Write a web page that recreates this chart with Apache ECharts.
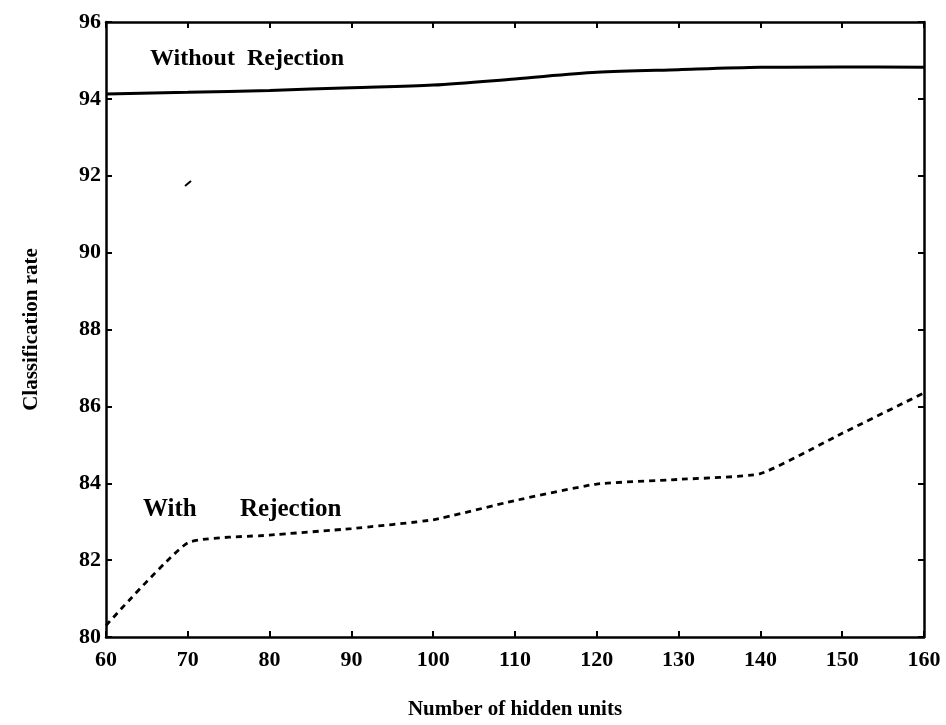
<!DOCTYPE html>
<html><head><meta charset="utf-8">
<script src="https://cdn.jsdelivr.net/npm/echarts@6/dist/echarts.min.js"></script>
<style>html,body{margin:0;padding:0;background:#fff}#c{width:946px;height:725px}</style>
</head><body><div id="c"></div>
<script>
const hiddenUnits = [60, 70, 80, 90, 100, 110, 120, 130, 140, 150, 160];
const withoutRejection = [94.13, 94.17, 94.22, 94.29, 94.36, 94.52, 94.69, 94.76, 94.82, 94.83, 94.82];
const withRejection = [80.3, 82.45, 82.65, 82.82, 83.05, 83.55, 83.98, 84.1, 84.25, 85.3, 86.35];
const xTicks = [60, 70, 80, 90, 100, 110, 120, 130, 140, 150, 160];
const yTicks = [80, 82, 84, 86, 88, 90, 92, 94, 96];

const font = 'Liberation Serif';
const chart = echarts.init(document.getElementById('c'));
const pair = a => hiddenUnits.map((x, i) => [x, a[i]]);
const axisLine = {show: true, lineStyle: {color: '#000', width: 2.5}};
const tick = {show: true, inside: true, length: 6, lineStyle: {color: '#000', width: 2}};
chart.setOption({
  backgroundColor: '#fff',
  animation: false,
  grid: {left: 106, right: 22, top: 22, bottom: 83, containLabel: false},
  xAxis: [{
    type: 'value', min: 60, max: 160, interval: 10, position: 'bottom',
    axisLine, axisTick: tick, splitLine: {show: false},
    axisLabel: {color: '#000', fontFamily: font, fontWeight: 'bold', fontSize: 22, margin: 12},
    name: 'Number of hidden units', nameLocation: 'middle', nameGap: 62,
    nameTextStyle: {color: '#000', fontFamily: font, fontWeight: 'bold', fontSize: 21}
  }, {
    type: 'value', min: 60, max: 160, interval: 10, position: 'top',
    axisLine, axisTick: tick, axisLabel: {show: false}, splitLine: {show: false}
  }],
  yAxis: [{
    type: 'value', min: 80, max: 96, interval: 2, position: 'left',
    axisLine, axisTick: tick, splitLine: {show: false},
    axisLabel: {color: '#000', fontFamily: font, fontWeight: 'bold', fontSize: 22, margin: 5},
    name: 'Classification rate', nameLocation: 'middle', nameGap: 64,
    nameTextStyle: {color: '#000', fontFamily: font, fontWeight: 'bold', fontSize: 21}
  }, {
    type: 'value', min: 80, max: 96, interval: 2, position: 'right',
    axisLine, axisTick: tick, axisLabel: {show: false}, splitLine: {show: false}
  }],
  series: [{
    type: 'line', data: pair(withoutRejection), smooth: 0.3, symbol: 'none',
    lineStyle: {color: '#000', width: 3}
  }, {
    type: 'line', data: pair(withRejection), smooth: 0.15, symbol: 'none',
    lineStyle: {color: '#000', width: 2.8, type: [6, 5]}
  }],
  graphic: [
    {type: 'text', left: 150, top: 47, style: {text: 'Without  Rejection', fill: '#000', font: 'bold 24px "Liberation Serif"'}},
    {type: 'text', left: 143, top: 497, style: {text: 'With', fill: '#000', font: 'bold 25px "Liberation Serif"'}},
    {type: 'text', left: 240, top: 497, style: {text: 'Rejection', fill: '#000', font: 'bold 25px "Liberation Serif"'}},
    {type: 'line', shape: {x1: 185, y1: 186, x2: 191, y2: 181}, style: {stroke: '#000', lineWidth: 2}}
  ]
});
</script></body></html>
